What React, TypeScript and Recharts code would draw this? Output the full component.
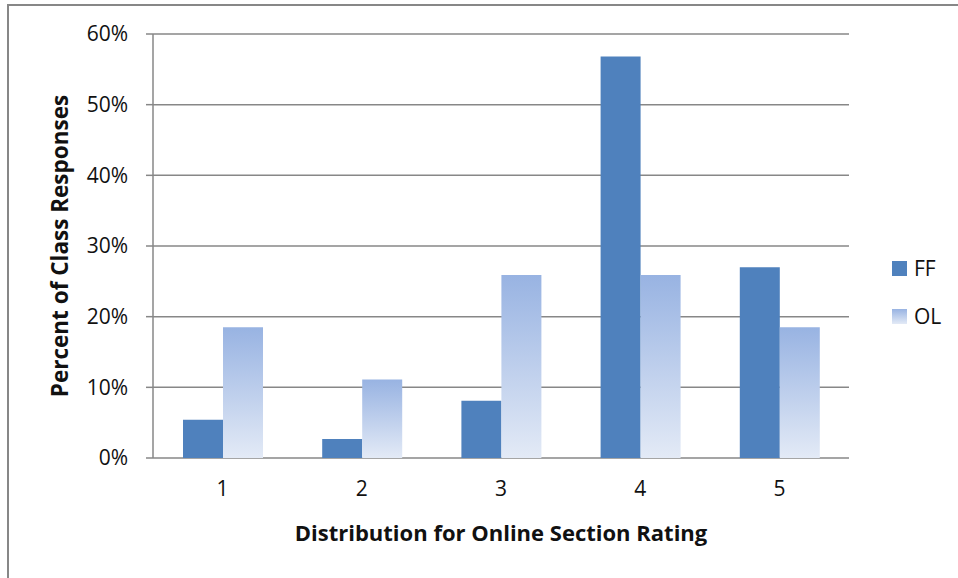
import React from "react";
import {
  BarChart,
  Bar,
  XAxis,
  YAxis,
  CartesianGrid,
  Label,
} from "recharts";

const ratings = ["1", "2", "3", "4", "5"];
const ffShare = [5.4, 2.7, 8.1, 56.8, 27.0];
const olShare = [18.5, 11.1, 25.9, 25.9, 18.5];
const yTicks = [0, 10, 20, 30, 40, 50, 60];
const edgeTicks = [0, 1, 2, 3, 4, 5];

const FF_COLOR = "#4F81BD";
const OL_TOP = "#98B3E2";
const OL_BOTTOM = "#E3EAF6";
const GRID = "#878787";
const FONT = "'Open Sans', Lato, sans-serif";

const data = ratings.map((r, i) => ({ rating: r, FF: ffShare[i], OL: olShare[i] }));

const series = [
  { key: "FF", fill: FF_COLOR },
  { key: "OL", fill: "url(#olFill)" },
];

const LegendBox: React.FC = () => (
  <div style={{ position: "absolute", left: 892, top: 244, fontFamily: FONT, fontSize: 21 }}>
    {series.map((s, i) => (
      <div key={s.key} style={{ display: "flex", alignItems: "center", height: 48 }}>
        <svg width={15} height={15} style={{ marginRight: 7 }}>
          <defs>
            <linearGradient id={`legendFill${i}`} x1="0" y1="0" x2="0" y2="1">
              <stop offset="0%" stopColor={OL_TOP} />
              <stop offset="100%" stopColor={OL_BOTTOM} />
            </linearGradient>
          </defs>
          <rect
            width={15}
            height={15}
            fill={s.key === "OL" ? `url(#legendFill${i})` : s.fill}
          />
        </svg>
        <span style={{ color: "#111" }}>{s.key}</span>
      </div>
    ))}
  </div>
);

export default function App() {
  return (
    <div style={{ position: "absolute", left: 0, top: 0, width: 958, height: 578, overflow: "hidden", background: "#fff" }}>
      <div
        style={{
          position: "absolute",
          left: 7,
          top: 4,
          width: 1000,
          height: 700,
          borderLeft: `2px solid ${GRID}`,
          borderTop: `2px solid ${GRID}`,
        }}
      />
      <div style={{ position: "absolute", left: 0, top: 0 }}>
        <BarChart
          width={958}
          height={578}
          data={data}
          margin={{ top: 34, right: 109, left: 0, bottom: 0 }}
          barGap={0}
          style={{ fontFamily: FONT }}
        >
          <defs>
            <linearGradient id="olFill" x1="0" y1="0" x2="0" y2="1">
              <stop offset="0%" stopColor={OL_TOP} />
              <stop offset="100%" stopColor={OL_BOTTOM} />
            </linearGradient>
          </defs>
          <CartesianGrid vertical={false} stroke={GRID} strokeWidth={1.5} />
          {/* boundary ticks between rating categories */}
          <XAxis
            xAxisId="edges"
            type="number"
            domain={[0, 5]}
            ticks={edgeTicks}
            allowDataOverflow
            height={0}
            tickSize={7}
            tickFormatter={() => ""}
            axisLine={{ stroke: GRID, strokeWidth: 1.5 }}
            tickLine={{ stroke: GRID, strokeWidth: 1.5 }}
          />
          <XAxis
            xAxisId="cat"
            dataKey="rating"
            height={120}
            axisLine={false}
            tickLine={false}
            tickSize={0}
            tickMargin={23}
            tick={{ fill: "#111", fontSize: 21, fontFamily: FONT }}
          >
            <Label
              value="Distribution for Online Section Rating"
              position="insideBottom"
              offset={37}
              style={{ fill: "#111", fontSize: 22, fontWeight: 700, fontFamily: FONT }}
            />
          </XAxis>
          <YAxis
            width={153}
            domain={[0, 60]}
            ticks={yTicks}
            tickFormatter={(v: number) => `${v}%`}
            tickSize={7}
            tickMargin={18}
            axisLine={{ stroke: GRID, strokeWidth: 1.5 }}
            tickLine={{ stroke: GRID, strokeWidth: 1.5 }}
            tick={{ fill: "#111", fontSize: 21, fontFamily: FONT }}
          >
            <Label
              value="Percent of Class Responses"
              angle={-90}
              position="insideLeft"
              offset={60}
              style={{ textAnchor: "middle", fill: "#111", fontSize: 22.5, fontWeight: 700, fontFamily: FONT }}
            />
          </YAxis>
          {series.map((s) => (
            <Bar
              key={s.key}
              xAxisId="cat"
              dataKey={s.key}
              fill={s.fill}
              barSize={40}
              isAnimationActive={false}
            />
          ))}
        </BarChart>
      </div>
      <LegendBox />
    </div>
  );
}
